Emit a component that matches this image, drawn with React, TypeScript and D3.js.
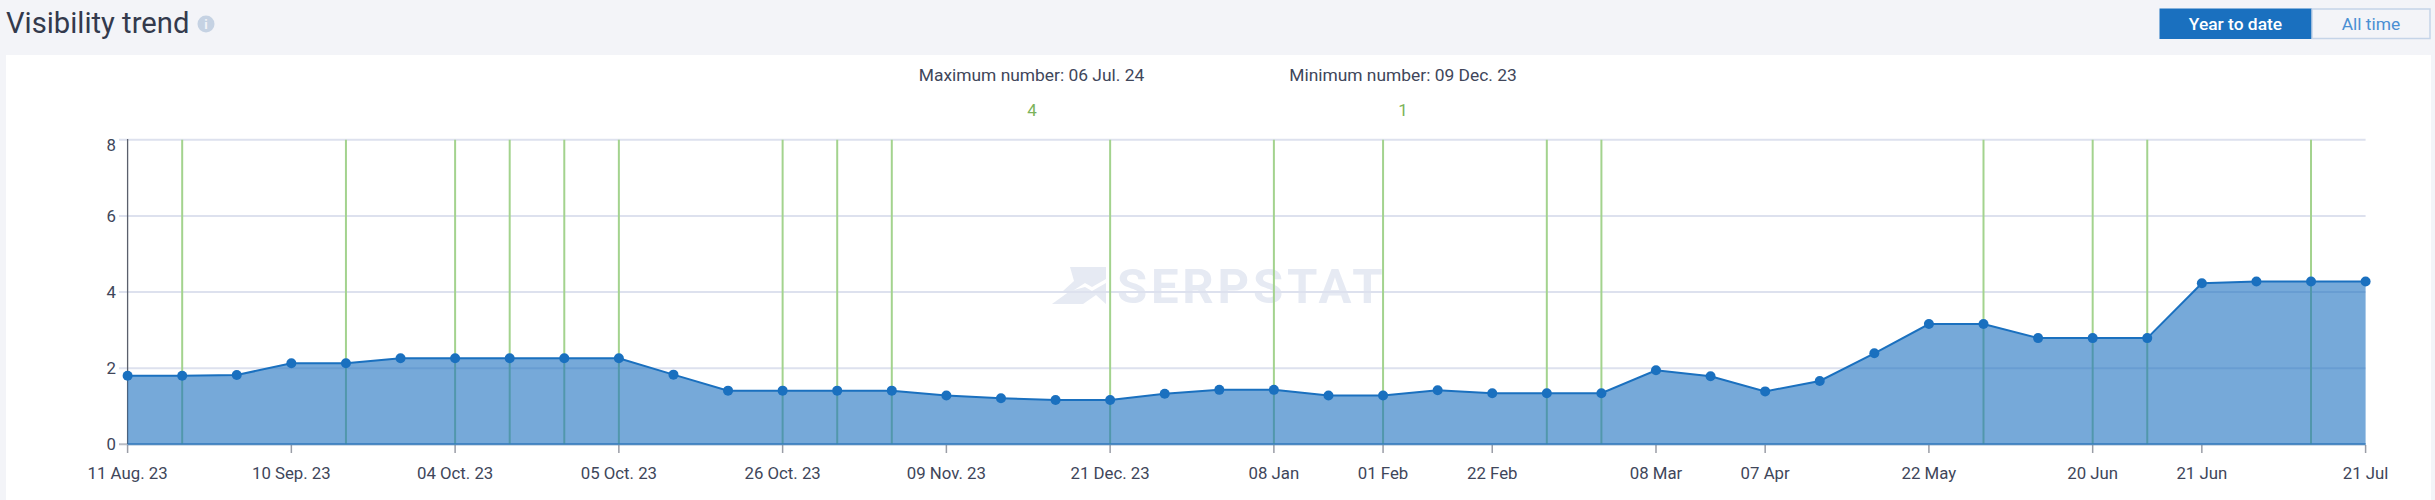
import React from "react";
import * as d3 from "d3";

const visibility = [
  1.8, 1.8, 1.82, 2.13, 2.13, 2.26, 2.26, 2.26, 2.26, 2.26, 1.83, 1.41, 1.41, 1.41,
  1.41, 1.28, 1.21, 1.165, 1.165, 1.33, 1.43, 1.43, 1.28, 1.28, 1.42, 1.34, 1.34, 1.34,
  1.945, 1.787, 1.39, 1.665, 2.39, 3.16, 3.16, 2.79, 2.79, 2.79, 4.23, 4.275, 4.275, 4.275,
];
const updateIndexes = [1, 4, 6, 7, 8, 9, 12, 13, 14, 18, 21, 23, 26, 27, 34, 36, 37, 40];
const tickIndexes = [0, 3, 6, 9, 12, 15, 18, 21, 23, 25, 28, 30, 33, 36, 38, 41];
const tickLabels = [
  "11 Aug. 23", "10 Sep. 23", "04 Oct. 23", "05 Oct. 23", "26 Oct. 23", "09 Nov. 23",
  "21 Dec. 23", "08 Jan", "01 Feb", "22 Feb", "08 Mar", "07 Apr", "22 May", "20 Jun",
  "21 Jun", "21 Jul",
];
const yTicks = [0, 2, 4, 6, 8];

const W = 2435;
const H = 500;
const FONT = "Roboto, sans-serif";
const BLUE = "#1a70bf";
const INK = "#40465a";

export default function App() {
  const x = d3.scaleLinear().domain([0, visibility.length - 1]).range([127.6, 2365.6]);
  const y = d3.scaleLinear().domain([0, 8]).range([444.3, 139.8]);
  const area = d3.area<number>().x((_, i) => x(i)).y0(y(0)).y1((d) => y(d))(visibility) ?? "";
  const line = d3.line<number>().x((_, i) => x(i)).y((d) => y(d))(visibility) ?? "";

  return (
    <svg width={W} height={H} style={{ position: "absolute", left: 0, top: 0, fontFamily: FONT }}>
      <rect width={W} height={H} fill="#f3f4f8" />
      <rect x={6} y={55} width={2425} height={H - 55} fill="#ffffff" />

      <text x={6} y={33} fontSize={29.2} fill="#333a4d">Visibility trend</text>
      <circle cx={206} cy={24} r={8.5} fill="#c5d2e3" />
      <text x={206} y={29} fontSize={13} fontWeight={700} textAnchor="middle" fill="#f3f4f8">i</text>

      <rect x={2159.5} y={8.5} width={152.5} height={30.5} fill={BLUE} />
      <rect x={2312} y={9} width={118} height={29.5} fill="#f3f4f8" stroke="#c5d4e8" strokeWidth={1.5} />
      <text x={2235.5} y={29.5} fontSize={17.4} fontWeight={500} textAnchor="middle" fill="#ffffff">Year to date</text>
      <text x={2371} y={29.5} fontSize={17.4} textAnchor="middle" fill="#4a8fd3">All time</text>

      <text x={1031.5} y={81} fontSize={17.4} textAnchor="middle" fill={INK}>Maximum number: 06 Jul. 24</text>
      <text x={1032} y={116} fontSize={17} textAnchor="middle" fill="#7cb35a">4</text>
      <text x={1403} y={81} fontSize={17.4} textAnchor="middle" fill={INK}>Minimum number: 09 Dec. 23</text>
      <text x={1403} y={116} fontSize={17} textAnchor="middle" fill="#7cb35a">1</text>

      <g fill="#e6eaf3">
        <path d="M1070 267 L1106 267 L1106 279 L1092 287 L1085 283 L1071 292 L1063 291 L1074 281 Z" />
        <path d="M1052 304 L1070 291 L1085 287 L1092 291 L1106 283 L1106 304 L1096 295 L1083 304 Z" />
        <text x={1117} y={303} fontSize={49} fontWeight={700} letterSpacing={3.8}>SERPSTAT</text>
      </g>

      {yTicks.map((t) => (
        <g key={t}>
          <line x1={119} x2={x.range()[1]} y1={y(t)} y2={y(t)} stroke={t === 0 ? "#b9bcc4" : "#dde1ee"} strokeWidth={2} />
          <text x={116} y={t === 8 ? 151 : y(t) + 6} fontSize={16.8} textAnchor="end" fill={INK}>{t}</text>
        </g>
      ))}
      <line x1={127.6} x2={127.6} y1={139} y2={444} stroke="#5a5f6c" strokeWidth={1.3} />

      {updateIndexes.map((i) => (
        <line key={i} x1={x(i)} x2={x(i)} y1={139.8} y2={444.3} stroke="#a3d38e" strokeWidth={2} />
      ))}

      {tickIndexes.map((i, k) => (
        <g key={i}>
          <line x1={x(i)} x2={x(i)} y1={445} y2={453} stroke="#9a9da6" strokeWidth={1.5} />
          <text x={x(i)} y={479} fontSize={16.8} textAnchor="middle" fill={INK}>{tickLabels[k]}</text>
        </g>
      ))}

      <path d={area} fill={BLUE} fillOpacity={0.6} />
      <path d={line} fill="none" stroke={BLUE} strokeWidth={2} />
      <line x1={x.range()[0]} x2={x.range()[1]} y1={y(0)} y2={y(0)} stroke={BLUE} strokeOpacity={0.6} strokeWidth={2} />
      {visibility.map((d, i) => (
        <circle key={i} cx={x(i)} cy={y(d)} r={5} fill={BLUE} />
      ))}
    </svg>
  );
}
